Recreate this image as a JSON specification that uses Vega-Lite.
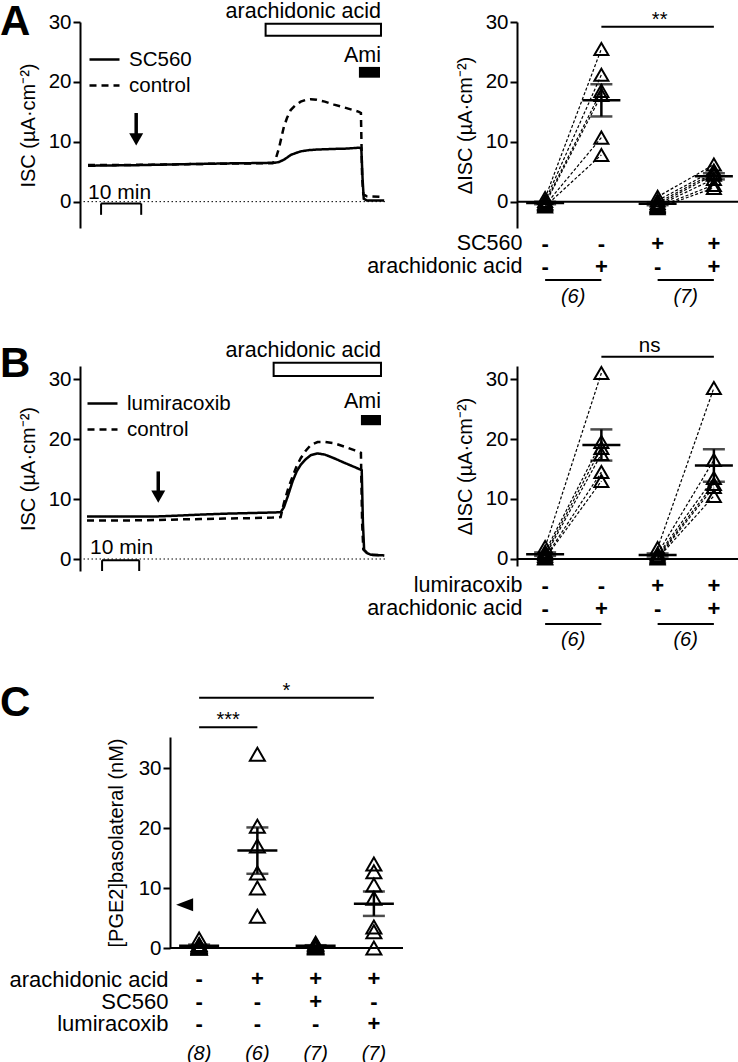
{
  "$schema": "https://vega.github.io/schema/vega-lite/v6.json",
  "padding": {"left": 0, "top": 0, "right": 0, "bottom": 0},
  "config": {
    "view": {"stroke": null},
    "font": "Liberation Sans",
    "axis": {"labelFont": "Liberation Sans", "titleFont": "Liberation Sans", "labelFontSize": 20.5, "titleFontSize": 20, "titleFontWeight": "normal", "labelColor": "black", "titleColor": "black", "domainColor": "black", "tickColor": "black", "domainWidth": 2, "tickWidth": 2, "tickSize": 7, "labelPadding": 2, "grid": false},
    "legend": {"labelFont": "Liberation Sans", "labelFontSize": 20.5, "labelColor": "black"},
    "text": {"font": "Liberation Sans", "color": "black"},
    "title": {"font": "Liberation Sans", "color": "black"}
  },
  "datasets": {
    "traceA": [
      {"series": "SC560", "t": 2, "v": 6.0}, {"series": "SC560", "t": 8, "v": 6.05}, {"series": "SC560", "t": 15, "v": 6.1}, {"series": "SC560", "t": 22, "v": 6.2}, {"series": "SC560", "t": 30, "v": 6.3}, {"series": "SC560", "t": 38, "v": 6.4}, {"series": "SC560", "t": 45, "v": 6.45}, {"series": "SC560", "t": 48.5, "v": 6.5}, {"series": "SC560", "t": 49.5, "v": 6.6}, {"series": "SC560", "t": 50.8, "v": 7.0}, {"series": "SC560", "t": 51.7, "v": 7.4}, {"series": "SC560", "t": 52.5, "v": 7.8}, {"series": "SC560", "t": 53.7, "v": 8.1}, {"series": "SC560", "t": 55, "v": 8.4}, {"series": "SC560", "t": 57, "v": 8.6}, {"series": "SC560", "t": 59, "v": 8.7}, {"series": "SC560", "t": 63, "v": 8.8}, {"series": "SC560", "t": 66, "v": 8.85}, {"series": "SC560", "t": 69.5, "v": 9.0}, {"series": "SC560", "t": 70.1, "v": 8.9}, {"series": "SC560", "t": 70.4, "v": 4.0}, {"series": "SC560", "t": 70.7, "v": 0.5}, {"series": "SC560", "t": 71.5, "v": 0.2}, {"series": "SC560", "t": 75.8, "v": 0.2},
      {"series": "control", "t": 2, "v": 6.1}, {"series": "control", "t": 8, "v": 6.1}, {"series": "control", "t": 15, "v": 6.15}, {"series": "control", "t": 22, "v": 6.2}, {"series": "control", "t": 30, "v": 6.3}, {"series": "control", "t": 38, "v": 6.35}, {"series": "control", "t": 45, "v": 6.4}, {"series": "control", "t": 48, "v": 6.4}, {"series": "control", "t": 48.8, "v": 7.2}, {"series": "control", "t": 49.6, "v": 9.0}, {"series": "control", "t": 50.8, "v": 12.5}, {"series": "control", "t": 51.6, "v": 14.0}, {"series": "control", "t": 52.5, "v": 15.3}, {"series": "control", "t": 53.7, "v": 16.1}, {"series": "control", "t": 55, "v": 16.7}, {"series": "control", "t": 56.3, "v": 17.0}, {"series": "control", "t": 57.5, "v": 17.1}, {"series": "control", "t": 59, "v": 17.0}, {"series": "control", "t": 61, "v": 16.7}, {"series": "control", "t": 63.3, "v": 16.2}, {"series": "control", "t": 66, "v": 15.7}, {"series": "control", "t": 69.5, "v": 15.0}, {"series": "control", "t": 70, "v": 14.8}, {"series": "control", "t": 70.3, "v": 4.0}, {"series": "control", "t": 70.6, "v": 1.2}, {"series": "control", "t": 71.5, "v": 0.9}, {"series": "control", "t": 75.8, "v": 0.8}
    ],
    "traceB": [
      {"series": "lumiracoxib", "t": 1.75, "v": 7.1}, {"series": "lumiracoxib", "t": 8, "v": 7.1}, {"series": "lumiracoxib", "t": 14, "v": 7.1}, {"series": "lumiracoxib", "t": 19.5, "v": 7.1}, {"series": "lumiracoxib", "t": 25, "v": 7.25}, {"series": "lumiracoxib", "t": 30, "v": 7.4}, {"series": "lumiracoxib", "t": 36, "v": 7.55}, {"series": "lumiracoxib", "t": 42, "v": 7.65}, {"series": "lumiracoxib", "t": 48, "v": 7.75}, {"series": "lumiracoxib", "t": 50, "v": 7.8}, {"series": "lumiracoxib", "t": 50.8, "v": 8.6}, {"series": "lumiracoxib", "t": 51.8, "v": 10.5}, {"series": "lumiracoxib", "t": 53, "v": 13.0}, {"series": "lumiracoxib", "t": 54, "v": 14.6}, {"series": "lumiracoxib", "t": 55, "v": 15.7}, {"series": "lumiracoxib", "t": 56.2, "v": 16.6}, {"series": "lumiracoxib", "t": 57.5, "v": 17.3}, {"series": "lumiracoxib", "t": 59.2, "v": 17.6}, {"series": "lumiracoxib", "t": 61, "v": 17.4}, {"series": "lumiracoxib", "t": 63.3, "v": 16.8}, {"series": "lumiracoxib", "t": 66, "v": 16.0}, {"series": "lumiracoxib", "t": 68.5, "v": 15.3}, {"series": "lumiracoxib", "t": 70.2, "v": 14.8}, {"series": "lumiracoxib", "t": 70.5, "v": 6.0}, {"series": "lumiracoxib", "t": 70.8, "v": 1.5}, {"series": "lumiracoxib", "t": 71.5, "v": 1.0}, {"series": "lumiracoxib", "t": 72.5, "v": 0.7}, {"series": "lumiracoxib", "t": 75.8, "v": 0.6},
      {"series": "control", "t": 1.75, "v": 6.4}, {"series": "control", "t": 8, "v": 6.4}, {"series": "control", "t": 14, "v": 6.45}, {"series": "control", "t": 19.5, "v": 6.5}, {"series": "control", "t": 25, "v": 6.6}, {"series": "control", "t": 30, "v": 6.65}, {"series": "control", "t": 36, "v": 6.75}, {"series": "control", "t": 42, "v": 6.8}, {"series": "control", "t": 48, "v": 6.9}, {"series": "control", "t": 50, "v": 7.0}, {"series": "control", "t": 50.8, "v": 9.3}, {"series": "control", "t": 52, "v": 12.0}, {"series": "control", "t": 53, "v": 13.8}, {"series": "control", "t": 54, "v": 15.5}, {"series": "control", "t": 55, "v": 16.8}, {"series": "control", "t": 56.2, "v": 18.0}, {"series": "control", "t": 57.5, "v": 19.0}, {"series": "control", "t": 59.2, "v": 19.5}, {"series": "control", "t": 61, "v": 19.5}, {"series": "control", "t": 63.3, "v": 19.3}, {"series": "control", "t": 66, "v": 18.7}, {"series": "control", "t": 68.5, "v": 18.1}, {"series": "control", "t": 70, "v": 17.7}, {"series": "control", "t": 70.3, "v": 6.0}, {"series": "control", "t": 70.6, "v": 1.6}, {"series": "control", "t": 71.5, "v": 1.0}, {"series": "control", "t": 72.5, "v": 0.7}, {"series": "control", "t": 75.8, "v": 0.6}
    ],
    "dotA": [
      {"g": "ctrl", "pair": "a1", "v": 0.6}, {"g": "ctrl", "pair": "a2", "v": 0.1}, {"g": "ctrl", "pair": "a3", "v": -0.2}, {"g": "ctrl", "pair": "a4", "v": -0.4}, {"g": "ctrl", "pair": "a5", "v": -0.6}, {"g": "ctrl", "pair": "a6", "v": -0.8},
      {"g": "AA", "pair": "a1", "v": 25.5}, {"g": "AA", "pair": "a2", "v": 21.2}, {"g": "AA", "pair": "a3", "v": 18.5}, {"g": "AA", "pair": "a4", "v": 17.8}, {"g": "AA", "pair": "a5", "v": 10.7}, {"g": "AA", "pair": "a6", "v": 7.8},
      {"g": "SC560", "pair": "b1", "v": 0.8}, {"g": "SC560", "pair": "b2", "v": 0.2}, {"g": "SC560", "pair": "b3", "v": -0.2}, {"g": "SC560", "pair": "b4", "v": -0.5}, {"g": "SC560", "pair": "b5", "v": -0.7}, {"g": "SC560", "pair": "b6", "v": -0.9}, {"g": "SC560", "pair": "b7", "v": -1.1},
      {"g": "SC560+AA", "pair": "b1", "v": 6.2}, {"g": "SC560+AA", "pair": "b2", "v": 5.2}, {"g": "SC560+AA", "pair": "b3", "v": 4.8}, {"g": "SC560+AA", "pair": "b4", "v": 4.5}, {"g": "SC560+AA", "pair": "b5", "v": 3.8}, {"g": "SC560+AA", "pair": "b6", "v": 2.8}, {"g": "SC560+AA", "pair": "b7", "v": 2.3}
    ],
    "dotB": [
      {"g": "ctrl", "pair": "c1", "v": 2.0}, {"g": "ctrl", "pair": "c2", "v": 1.2}, {"g": "ctrl", "pair": "c3", "v": 0.8}, {"g": "ctrl", "pair": "c4", "v": 0.5}, {"g": "ctrl", "pair": "c5", "v": 0.2}, {"g": "ctrl", "pair": "c6", "v": 0.1},
      {"g": "AA", "pair": "c1", "v": 31.0}, {"g": "AA", "pair": "c2", "v": 19.5}, {"g": "AA", "pair": "c3", "v": 18.5}, {"g": "AA", "pair": "c4", "v": 17.5}, {"g": "AA", "pair": "c5", "v": 14.5}, {"g": "AA", "pair": "c6", "v": 13.0},
      {"g": "lumi", "pair": "d1", "v": 1.8}, {"g": "lumi", "pair": "d2", "v": 0.9}, {"g": "lumi", "pair": "d3", "v": 0.6}, {"g": "lumi", "pair": "d4", "v": 0.4}, {"g": "lumi", "pair": "d5", "v": 0.2}, {"g": "lumi", "pair": "d6", "v": 0.1},
      {"g": "lumi+AA", "pair": "d1", "v": 28.5}, {"g": "lumi+AA", "pair": "d2", "v": 16.5}, {"g": "lumi+AA", "pair": "d3", "v": 13.5}, {"g": "lumi+AA", "pair": "d4", "v": 12.5}, {"g": "lumi+AA", "pair": "d5", "v": 12.0}, {"g": "lumi+AA", "pair": "d6", "v": 10.5}
    ],
    "dotC": [
      {"g": "ctrl", "v": 1.5}, {"g": "ctrl", "v": 0.6}, {"g": "ctrl", "v": 0.5}, {"g": "ctrl", "v": 0.3}, {"g": "ctrl", "v": 0.2}, {"g": "ctrl", "v": 0}, {"g": "ctrl", "v": 0}, {"g": "ctrl", "v": 0},
      {"g": "AA", "v": 32.3}, {"g": "AA", "v": 20.3}, {"g": "AA", "v": 17.0}, {"g": "AA", "v": 12.5}, {"g": "AA", "v": 10.0}, {"g": "AA", "v": 5.3},
      {"g": "AA+SC560", "v": 0.8}, {"g": "AA+SC560", "v": 0.6}, {"g": "AA+SC560", "v": 0.5}, {"g": "AA+SC560", "v": 0.3}, {"g": "AA+SC560", "v": 0.2}, {"g": "AA+SC560", "v": 0.1}, {"g": "AA+SC560", "v": 0},
      {"g": "AA+lumi", "v": 14.0}, {"g": "AA+lumi", "v": 12.7}, {"g": "AA+lumi", "v": 10.5}, {"g": "AA+lumi", "v": 8.3}, {"g": "AA+lumi", "v": 3.5}, {"g": "AA+lumi", "v": 2.7}, {"g": "AA+lumi", "v": 0}
    ],
    "tabA": [
      {"g": "ctrl", "row": "SC560", "s": "-"}, {"g": "AA", "row": "SC560", "s": "-"}, {"g": "SC560", "row": "SC560", "s": "+"}, {"g": "SC560+AA", "row": "SC560", "s": "+"},
      {"g": "ctrl", "row": "arachidonic acid", "s": "-"}, {"g": "AA", "row": "arachidonic acid", "s": "+"}, {"g": "SC560", "row": "arachidonic acid", "s": "-"}, {"g": "SC560+AA", "row": "arachidonic acid", "s": "+"}
    ],
    "tabB": [
      {"g": "ctrl", "row": "lumiracoxib", "s": "-"}, {"g": "AA", "row": "lumiracoxib", "s": "-"}, {"g": "lumi", "row": "lumiracoxib", "s": "+"}, {"g": "lumi+AA", "row": "lumiracoxib", "s": "+"},
      {"g": "ctrl", "row": "arachidonic acid", "s": "-"}, {"g": "AA", "row": "arachidonic acid", "s": "+"}, {"g": "lumi", "row": "arachidonic acid", "s": "-"}, {"g": "lumi+AA", "row": "arachidonic acid", "s": "+"}
    ],
    "tabC": [
      {"g": "ctrl", "row": "arachidonic acid", "s": "-"}, {"g": "AA", "row": "arachidonic acid", "s": "+"}, {"g": "AA+SC560", "row": "arachidonic acid", "s": "+"}, {"g": "AA+lumi", "row": "arachidonic acid", "s": "+"},
      {"g": "ctrl", "row": "SC560", "s": "-"}, {"g": "AA", "row": "SC560", "s": "-"}, {"g": "AA+SC560", "row": "SC560", "s": "+"}, {"g": "AA+lumi", "row": "SC560", "s": "-"},
      {"g": "ctrl", "row": "lumiracoxib", "s": "-"}, {"g": "AA", "row": "lumiracoxib", "s": "-"}, {"g": "AA+SC560", "row": "lumiracoxib", "s": "-"}, {"g": "AA+lumi", "row": "lumiracoxib", "s": "+"}
    ],
    "nA": [{"from": "ctrl", "to": "AA", "n": "(6)"}, {"from": "SC560", "to": "SC560+AA", "n": "(7)"}],
    "nB": [{"from": "ctrl", "to": "AA", "n": "(6)"}, {"from": "lumi", "to": "lumi+AA", "n": "(6)"}],
    "nC": [{"g": "ctrl", "n": "(8)"}, {"g": "AA", "n": "(6)"}, {"g": "AA+SC560", "n": "(7)"}, {"g": "AA+lumi", "n": "(7)"}]
  },
  "vconcat": [
    {
      "vconcat": [
        {
          "hconcat": [
            {
              "width": 305, "height": 206,
              "title": {"text": "A", "anchor": "start", "frame": "group", "orient": "top", "offset": -43, "dx": -80, "dy": 33.2, "fontSize": 42, "fontWeight": "bold", "baseline": "alphabetic"},
              "layer": [
                {"data": {"values": [{}]}, "mark": {"type": "rule", "strokeDash": [1.5, 2.5], "strokeWidth": 1, "color": "black"}, "encoding": {"y": {"datum": 0, "type": "quantitative", "title": "ISC (µA·cm⁻²)", "scale": {"domain": [-4.4, 30], "nice": false}, "axis": {"values": [0, 10, 20, 30], "titlePadding": 10}}}},
                {"data": {"name": "traceA"}, "mark": {"type": "line", "strokeWidth": 2.5, "color": "black"},
                 "encoding": {
                   "x": {"field": "t", "type": "quantitative", "scale": {"domain": [0, 76], "nice": false, "zero": false}, "axis": null},
                   "y": {"field": "v", "type": "quantitative", "title": "ISC (µA·cm⁻²)", "axis": {"values": [0, 10, 20, 30], "titlePadding": 10}},
                   "strokeDash": {"field": "series", "type": "nominal", "scale": {"domain": ["SC560", "control"], "range": [[1, 0], [7, 5]]},
                     "legend": {"orient": "none", "legendX": 13, "legendY": 26, "title": null, "symbolType": "M-1.5,0L1.5,0", "symbolSize": 400, "symbolStrokeWidth": 2.5, "symbolStrokeColor": "black", "symbolFillColor": "transparent", "labelFontSize": 20.5, "labelOffset": 13, "rowPadding": 4, "padding": 0}}
                 }},
                {"data": {"values": [{}]}, "mark": {"type": "rect", "fill": "white", "stroke": "black", "strokeWidth": 2}, "encoding": {"x": {"datum": 46.25}, "x2": {"datum": 75}, "y": {"datum": 27.7}, "y2": {"datum": 29.7}}},
                {"data": {"values": [{}]}, "mark": {"type": "text", "text": "arachidonic acid", "align": "right", "baseline": "middle", "fontSize": 21.5}, "encoding": {"x": {"datum": 75}, "y": {"datum": 31.7}}},
                {"data": {"values": [{}]}, "mark": {"type": "text", "text": "Ami", "align": "right", "baseline": "middle", "fontSize": 21.5}, "encoding": {"x": {"datum": 75}, "y": {"datum": 24.4}}},
                {"data": {"values": [{}]}, "mark": {"type": "rect", "fill": "black"}, "encoding": {"x": {"datum": 69.5}, "x2": {"datum": 74.75}, "y": {"datum": 20.7}, "y2": {"datum": 22.5}}},
                {"data": {"values": [{}]}, "mark": {"type": "rule", "strokeWidth": 3.5, "color": "black"}, "encoding": {"x": {"datum": 14}, "y": {"datum": 14.8}, "y2": {"datum": 11.2}}},
                {"data": {"values": [{}]}, "mark": {"type": "point", "shape": "triangle-down", "filled": true, "size": 196, "color": "black", "opacity": 1}, "encoding": {"x": {"datum": 14}, "y": {"datum": 10.4}}},
                {"data": {"values": [{}]}, "mark": {"type": "rule", "strokeWidth": 2, "color": "black"}, "encoding": {"x": {"datum": 5.25}, "x2": {"datum": 15.25}, "y": {"datum": -0.3}}},
                {"data": {"values": [{}]}, "mark": {"type": "rule", "strokeWidth": 2, "color": "black"}, "encoding": {"x": {"datum": 5.25}, "y": {"datum": -0.3}, "y2": {"datum": -2.2}}},
                {"data": {"values": [{}]}, "mark": {"type": "rule", "strokeWidth": 2, "color": "black"}, "encoding": {"x": {"datum": 15.25}, "y": {"datum": -0.3}, "y2": {"datum": -2.2}}},
                {"data": {"values": [{}]}, "mark": {"type": "text", "text": "10 min", "align": "left", "baseline": "alphabetic", "fontSize": 21}, "encoding": {"x": {"datum": 2}, "y": {"datum": 0.4}}}
              ]
            },
            {
              "vconcat": [
                {
                  "width": 225, "height": 206,
                  "data": {"name": "dotA"},
                  "layer": [
                    {"data": {"values": [{}]}, "mark": {"type": "rule", "strokeWidth": 2, "color": "black"}, "encoding": {"y": {"datum": 0, "type": "quantitative", "title": "ΔISC (µA·cm⁻²)", "scale": {"domain": [-4.4, 30], "nice": false}, "axis": {"values": [0, 10, 20, 30], "titlePadding": 10}}}},
                    {"mark": {"type": "line", "strokeDash": [3, 2], "strokeWidth": 1.2, "color": "black"}, "encoding": {"x": {"field": "g", "type": "nominal", "scale": {"type": "point", "domain": ["ctrl", "AA", "SC560", "SC560+AA"], "padding": 0.5}, "axis": null}, "y": {"field": "v", "type": "quantitative", "title": "ΔISC (µA·cm⁻²)"}, "detail": {"field": "pair"}}},
                    {"mark": {"type": "point", "shape": "triangle-up", "filled": false, "size": 196, "strokeWidth": 2, "color": "black", "opacity": 1}, "encoding": {"x": {"field": "g", "type": "nominal"}, "y": {"field": "v", "type": "quantitative", "title": "ΔISC (µA·cm⁻²)"}}},
                    {"mark": {"type": "tick", "size": 38, "thickness": 2.5, "color": "black", "opacity": 1}, "encoding": {"x": {"field": "g", "type": "nominal"}, "y": {"aggregate": "mean", "field": "v", "type": "quantitative", "title": "ΔISC (µA·cm⁻²)"}}},
                    {"mark": {"type": "errorbar", "extent": "stderr", "ticks": {"size": 22, "thickness": 2.5, "color": "black"}, "rule": {"strokeWidth": 2.5, "color": "black"}}, "encoding": {"x": {"field": "g", "type": "nominal"}, "y": {"field": "v", "type": "quantitative", "title": "ΔISC (µA·cm⁻²)"}}},
                    {"data": {"values": [{}]}, "mark": {"type": "rule", "strokeWidth": 2, "color": "black"}, "encoding": {"x": {"datum": "AA"}, "x2": {"datum": "SC560+AA"}, "y": {"datum": 29.2}}},
                    {"data": {"values": [{}]}, "mark": {"type": "text", "text": "**", "fontSize": 20, "baseline": "alphabetic", "dy": -1, "dx": 2}, "encoding": {"x": {"datum": "SC560"}, "y": {"datum": 29.2}}}
                  ]
                },
                {
                  "width": 225, "height": 46,
                  "layer": [
                    {"data": {"name": "tabA"}, "mark": {"type": "text", "fontSize": 22, "fontWeight": "bold", "baseline": "middle"}, "encoding": {"x": {"field": "g", "type": "nominal", "scale": {"type": "point", "domain": ["ctrl", "AA", "SC560", "SC560+AA"], "padding": 0.5}, "axis": null}, "y": {"field": "row", "type": "nominal", "scale": {"type": "point", "domain": ["SC560", "arachidonic acid"], "padding": 0.5}, "axis": {"title": null, "domain": false, "ticks": false, "tickSize": 0, "labelPadding": -5, "labelFontSize": 21.5}}, "text": {"field": "s"}}},
                    {"data": {"name": "nA"}, "mark": {"type": "rule", "strokeWidth": 2, "color": "black", "yOffset": 13.5}, "encoding": {"x": {"field": "from", "type": "nominal"}, "x2": {"field": "to"}, "y": {"datum": "arachidonic acid"}}},
                    {"data": {"name": "nA"}, "mark": {"type": "text", "fontSize": 20, "fontStyle": "italic", "dx": 28, "dy": 30.5, "baseline": "middle"}, "encoding": {"x": {"field": "from", "type": "nominal"}, "y": {"datum": "arachidonic acid"}, "text": {"field": "n"}}}
                  ]
                }
              ],
              "spacing": 4, "bounds": "flush",
              "resolve": {"scale": {"x": "independent", "y": "independent"}}
            }
          ],
          "spacing": -24,
          "resolve": {"scale": {"x": "independent", "y": "independent", "strokeDash": "independent"}}
        },
        {
          "hconcat": [
            {
              "width": 305, "height": 205,
              "title": {"text": "B", "anchor": "start", "frame": "group", "orient": "top", "offset": -38, "dx": -80, "dy": 41.2, "fontSize": 42, "fontWeight": "bold", "baseline": "alphabetic"},
              "layer": [
                {"data": {"values": [{}]}, "mark": {"type": "rule", "strokeDash": [1.5, 2.5], "strokeWidth": 1, "color": "black"}, "encoding": {"y": {"datum": 0, "type": "quantitative", "title": "ISC (µA·cm⁻²)", "scale": {"domain": [-2, 32.17], "nice": false}, "axis": {"values": [0, 10, 20, 30], "titlePadding": 10}}}},
                {"data": {"name": "traceB"}, "mark": {"type": "line", "strokeWidth": 2.5, "color": "black"},
                 "encoding": {
                   "x": {"field": "t", "type": "quantitative", "scale": {"domain": [0, 76], "nice": false, "zero": false}, "axis": null},
                   "y": {"field": "v", "type": "quantitative", "title": "ISC (µA·cm⁻²)", "axis": {"values": [0, 10, 20, 30], "titlePadding": 10}},
                   "strokeDash": {"field": "series", "type": "nominal", "scale": {"domain": ["lumiracoxib", "control"], "range": [[1, 0], [7, 5]]},
                     "legend": {"orient": "none", "legendX": 11, "legendY": 26, "title": null, "symbolType": "M-1.5,0L1.5,0", "symbolSize": 400, "symbolStrokeWidth": 2.5, "symbolStrokeColor": "black", "symbolFillColor": "transparent", "labelFontSize": 20.5, "labelOffset": 13, "rowPadding": 4, "padding": 0}}
                 }},
                {"data": {"values": [{}]}, "mark": {"type": "rect", "fill": "white", "stroke": "black", "strokeWidth": 2}, "encoding": {"x": {"datum": 48.25}, "x2": {"datum": 75}, "y": {"datum": 30.5}, "y2": {"datum": 32.7}}},
                {"data": {"values": [{}]}, "mark": {"type": "text", "text": "arachidonic acid", "align": "right", "baseline": "middle", "fontSize": 21.5}, "encoding": {"x": {"datum": 75}, "y": {"datum": 34.7}}},
                {"data": {"values": [{}]}, "mark": {"type": "text", "text": "Ami", "align": "right", "baseline": "middle", "fontSize": 21.5}, "encoding": {"x": {"datum": 75}, "y": {"datum": 26.2}}},
                {"data": {"values": [{}]}, "mark": {"type": "rect", "fill": "black"}, "encoding": {"x": {"datum": 70}, "x2": {"datum": 75}, "y": {"datum": 22.3}, "y2": {"datum": 24}}},
                {"data": {"values": [{}]}, "mark": {"type": "rule", "strokeWidth": 3.5, "color": "black"}, "encoding": {"x": {"datum": 19.5}, "y": {"datum": 14.6}, "y2": {"datum": 11.2}}},
                {"data": {"values": [{}]}, "mark": {"type": "point", "shape": "triangle-down", "filled": true, "size": 196, "color": "black", "opacity": 1}, "encoding": {"x": {"datum": 19.5}, "y": {"datum": 10.4}}},
                {"data": {"values": [{}]}, "mark": {"type": "rule", "strokeWidth": 2, "color": "black"}, "encoding": {"x": {"datum": 5.5}, "x2": {"datum": 14.75}, "y": {"datum": -0.2}}},
                {"data": {"values": [{}]}, "mark": {"type": "rule", "strokeWidth": 2, "color": "black"}, "encoding": {"x": {"datum": 5.5}, "y": {"datum": -0.2}, "y2": {"datum": -2}}},
                {"data": {"values": [{}]}, "mark": {"type": "rule", "strokeWidth": 2, "color": "black"}, "encoding": {"x": {"datum": 14.75}, "y": {"datum": -0.2}, "y2": {"datum": -2}}},
                {"data": {"values": [{}]}, "mark": {"type": "text", "text": "10 min", "align": "left", "baseline": "alphabetic", "fontSize": 21}, "encoding": {"x": {"datum": 2.5}, "y": {"datum": 0.8}}}
              ]
            },
            {
              "vconcat": [
                {
                  "width": 225, "height": 200,
                  "data": {"name": "dotB"},
                  "layer": [
                    {"data": {"values": [{}]}, "mark": {"type": "rule", "strokeWidth": 2, "color": "black"}, "encoding": {"y": {"datum": 0, "type": "quantitative", "title": "ΔISC (µA·cm⁻²)", "scale": {"domain": [-1.17, 32.17], "nice": false}, "axis": {"values": [0, 10, 20, 30], "titlePadding": 10}}}},
                    {"mark": {"type": "line", "strokeDash": [3, 2], "strokeWidth": 1.2, "color": "black"}, "encoding": {"x": {"field": "g", "type": "nominal", "scale": {"type": "point", "domain": ["ctrl", "AA", "lumi", "lumi+AA"], "padding": 0.5}, "axis": null}, "y": {"field": "v", "type": "quantitative", "title": "ΔISC (µA·cm⁻²)"}, "detail": {"field": "pair"}}},
                    {"mark": {"type": "point", "shape": "triangle-up", "filled": false, "size": 196, "strokeWidth": 2, "color": "black", "opacity": 1}, "encoding": {"x": {"field": "g", "type": "nominal"}, "y": {"field": "v", "type": "quantitative", "title": "ΔISC (µA·cm⁻²)"}}},
                    {"mark": {"type": "tick", "size": 38, "thickness": 2.5, "color": "black", "opacity": 1}, "encoding": {"x": {"field": "g", "type": "nominal"}, "y": {"aggregate": "mean", "field": "v", "type": "quantitative", "title": "ΔISC (µA·cm⁻²)"}}},
                    {"mark": {"type": "errorbar", "extent": "stderr", "ticks": {"size": 22, "thickness": 2.5, "color": "black"}, "rule": {"strokeWidth": 2.5, "color": "black"}}, "encoding": {"x": {"field": "g", "type": "nominal"}, "y": {"field": "v", "type": "quantitative", "title": "ΔISC (µA·cm⁻²)"}}},
                    {"data": {"values": [{}]}, "mark": {"type": "rule", "strokeWidth": 2, "color": "black"}, "encoding": {"x": {"datum": "AA"}, "x2": {"datum": "lumi+AA"}, "y": {"datum": 33.7}}},
                    {"data": {"values": [{}]}, "mark": {"type": "text", "text": "ns", "fontSize": 20.5, "baseline": "alphabetic", "dy": -5, "dx": -8}, "encoding": {"x": {"datum": "lumi"}, "y": {"datum": 33.7}}}
                  ]
                },
                {
                  "width": 225, "height": 46,
                  "layer": [
                    {"data": {"name": "tabB"}, "mark": {"type": "text", "fontSize": 22, "fontWeight": "bold", "baseline": "middle"}, "encoding": {"x": {"field": "g", "type": "nominal", "scale": {"type": "point", "domain": ["ctrl", "AA", "lumi", "lumi+AA"], "padding": 0.5}, "axis": null}, "y": {"field": "row", "type": "nominal", "scale": {"type": "point", "domain": ["lumiracoxib", "arachidonic acid"], "padding": 0.5}, "axis": {"title": null, "domain": false, "ticks": false, "tickSize": 0, "labelPadding": -5, "labelFontSize": 21.5}}, "text": {"field": "s"}}},
                    {"data": {"name": "nB"}, "mark": {"type": "rule", "strokeWidth": 2, "color": "black", "yOffset": 15.5}, "encoding": {"x": {"field": "from", "type": "nominal"}, "x2": {"field": "to"}, "y": {"datum": "arachidonic acid"}}},
                    {"data": {"name": "nB"}, "mark": {"type": "text", "fontSize": 20, "fontStyle": "italic", "dx": 28, "dy": 31.5, "baseline": "middle"}, "encoding": {"x": {"field": "from", "type": "nominal"}, "y": {"datum": "arachidonic acid"}, "text": {"field": "n"}}}
                  ]
                }
              ],
              "spacing": 8, "bounds": "flush",
              "resolve": {"scale": {"x": "independent", "y": "independent"}}
            }
          ],
          "spacing": -24,
          "resolve": {"scale": {"x": "independent", "y": "independent", "strokeDash": "independent"}}
        }
      ],
      "spacing": 28,
      "resolve": {"scale": {"x": "independent", "y": "independent", "strokeDash": "independent"}}
    },
    {
      "hconcat": [
        {"width": 1, "height": 1, "data": {"values": []}, "mark": "point"},
        {
          "vconcat": [
            {
              "width": 233, "height": 211,
              "data": {"name": "dotC"},
              "title": {"text": "C", "anchor": "start", "frame": "group", "orient": "top", "offset": -40, "dx": -170, "dy": 37.2, "fontSize": 42, "fontWeight": "bold", "baseline": "alphabetic"},
              "layer": [
                {"data": {"values": [{}]}, "mark": {"type": "rule", "strokeWidth": 2, "color": "black"}, "encoding": {"y": {"datum": 0, "type": "quantitative", "title": "[PGE2]basolateral (nM)", "scale": {"domain": [0, 35.17], "nice": false}, "axis": {"values": [0, 10, 20, 30], "titlePadding": 12}}}},
                {"mark": {"type": "point", "shape": "triangle-up", "filled": false, "size": 225, "strokeWidth": 2, "color": "black", "opacity": 1}, "encoding": {"x": {"field": "g", "type": "nominal", "scale": {"type": "point", "domain": ["ctrl", "AA", "AA+SC560", "AA+lumi"], "padding": 0.5}, "axis": null}, "y": {"field": "v", "type": "quantitative", "title": "[PGE2]basolateral (nM)"}}},
                {"mark": {"type": "tick", "size": 40, "thickness": 2.5, "color": "black", "opacity": 1}, "encoding": {"x": {"field": "g", "type": "nominal"}, "y": {"aggregate": "mean", "field": "v", "type": "quantitative", "title": "[PGE2]basolateral (nM)"}}},
                {"mark": {"type": "errorbar", "extent": "stderr", "ticks": {"size": 22, "thickness": 2.5, "color": "black"}, "rule": {"strokeWidth": 2.5, "color": "black"}}, "encoding": {"x": {"field": "g", "type": "nominal"}, "y": {"field": "v", "type": "quantitative", "title": "[PGE2]basolateral (nM)"}}},
                {"data": {"values": [{}]}, "mark": {"type": "point", "shape": "M-1,0L1,-0.76L1,0.76Z", "filled": true, "size": 289, "color": "black", "opacity": 1, "xOffset": -14.5}, "encoding": {"x": {"datum": "ctrl"}, "y": {"datum": 7.2}}},
                {"data": {"values": [{}]}, "mark": {"type": "rule", "strokeWidth": 2, "color": "black"}, "encoding": {"x": {"datum": "ctrl"}, "x2": {"datum": "AA"}, "y": {"datum": 36.8}}},
                {"data": {"values": [{}]}, "mark": {"type": "text", "text": "***", "fontSize": 20, "baseline": "alphabetic", "dx": 29, "dy": -1}, "encoding": {"x": {"datum": "ctrl"}, "y": {"datum": 36.8}}},
                {"data": {"values": [{}]}, "mark": {"type": "rule", "strokeWidth": 2, "color": "black"}, "encoding": {"x": {"datum": "ctrl"}, "x2": {"datum": "AA+lumi"}, "y": {"datum": 41.7}}},
                {"data": {"values": [{}]}, "mark": {"type": "text", "text": "*", "fontSize": 20, "baseline": "alphabetic", "dx": 29, "dy": -1}, "encoding": {"x": {"datum": "AA"}, "y": {"datum": 41.7}}}
              ]
            },
            {
              "width": 233, "height": 67,
              "layer": [
                {"data": {"name": "tabC"}, "mark": {"type": "text", "fontSize": 22, "fontWeight": "bold", "baseline": "middle"}, "encoding": {"x": {"field": "g", "type": "nominal", "scale": {"type": "point", "domain": ["ctrl", "AA", "AA+SC560", "AA+lumi"], "padding": 0.5}, "axis": null}, "y": {"field": "row", "type": "nominal", "scale": {"type": "point", "domain": ["arachidonic acid", "SC560", "lumiracoxib"], "padding": 0.5}, "axis": {"title": null, "domain": false, "ticks": false, "tickSize": 0, "labelPadding": 2, "labelFontSize": 22}}, "text": {"field": "s"}}},
                {"data": {"name": "nC"}, "mark": {"type": "text", "fontSize": 20, "fontStyle": "italic", "dy": 30, "baseline": "middle"}, "encoding": {"x": {"field": "g", "type": "nominal"}, "y": {"datum": "lumiracoxib"}, "text": {"field": "n"}}}
              ]
            }
          ],
          "spacing": 20, "bounds": "flush",
          "resolve": {"scale": {"x": "independent", "y": "independent"}}
        }
      ],
      "spacing": -81,
      "resolve": {"scale": {"x": "independent", "y": "independent"}}
    }
  ],
  "spacing": 30,
  "resolve": {"scale": {"x": "independent", "y": "independent", "strokeDash": "independent"}}
}
